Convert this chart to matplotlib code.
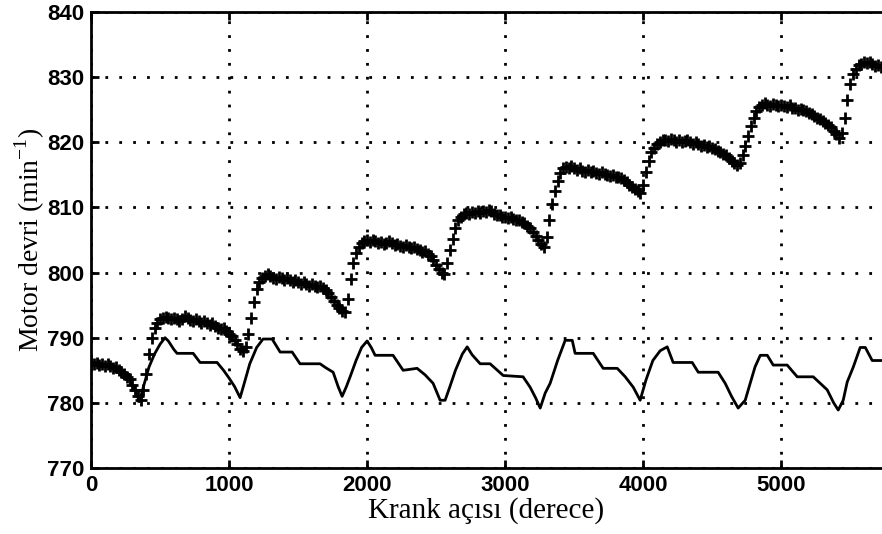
import matplotlib
matplotlib.use('Agg')
import matplotlib.pyplot as plt
import numpy as np

# krank acisi ekseni (derece), + isaretli seri her 20 derecede bir
angle_step = 20

# motor devri, + isaretli seri (min-1)
speed_marked = [
    786.2, 786.0, 786.1, 785.8, 786.0, 785.7, 785.9, 785.6, 785.4, 785.5,
    785.0, 784.8, 784.5, 784.0, 783.6, 782.8, 781.9, 781.0, 780.5, 782.0,
    784.5, 787.5, 790.0, 791.5, 792.3, 792.8, 793.0, 793.2, 793.0, 792.8,
    793.1, 792.9, 792.6, 792.9, 793.3, 793.0, 792.7, 792.5, 792.8, 792.6,
    792.3, 792.5, 792.2, 792.0, 792.2, 791.8, 791.5, 791.3, 791.5, 791.0,
    790.5, 790.2, 789.6, 789.0, 788.3, 788.0, 788.5, 790.5, 793.0, 795.5,
    797.5, 798.6, 799.2, 799.5, 799.8, 799.5, 799.2, 799.0, 799.3, 799.1,
    798.9, 799.2, 798.8, 798.6, 798.9, 798.5, 798.3, 798.6, 798.2, 798.0,
    798.3, 797.9, 797.8, 798.0, 797.6, 797.3, 796.8, 796.2, 795.6, 795.0,
    794.5, 794.1, 794.0, 796.0, 799.0, 801.5, 803.0, 804.0, 804.5, 804.8,
    805.0, 804.7, 805.0, 804.8, 804.5, 804.7, 804.4, 804.6, 804.8, 804.5,
    804.2, 804.4, 804.1, 804.0, 804.2, 803.9, 803.8, 803.9, 803.6, 803.5,
    803.2, 803.3, 802.8, 802.5, 802.0, 801.2, 800.5, 800.0, 799.8, 801.5,
    803.5, 805.2, 806.8, 808.0, 808.6, 809.0, 809.2, 809.0, 809.3, 809.1,
    809.4, 809.2, 809.5, 809.3, 809.6, 809.4, 809.0, 808.8, 808.9, 808.6,
    808.5, 808.4, 808.5, 808.3, 808.0, 808.1, 807.8, 807.6, 807.2, 806.8,
    806.3, 805.6, 805.0, 804.4, 804.0, 805.5, 808.0, 810.5, 812.5, 814.0,
    815.3, 816.0, 816.2, 816.0, 816.3, 816.1, 815.8, 816.0, 815.6, 815.5,
    815.7, 815.4, 815.6, 815.3, 815.2, 815.4, 815.1, 815.0, 814.8, 815.0,
    814.7, 814.6, 814.5, 814.2, 813.9, 813.5, 813.2, 812.9, 812.5, 812.2,
    813.5, 815.5, 817.2, 818.5, 819.2, 819.8, 820.1, 820.3, 820.4, 820.2,
    820.5, 820.3, 820.1, 820.3, 820.0, 820.2, 820.4, 820.1, 819.8, 820.0,
    819.7, 819.5, 819.6, 819.3, 819.4, 819.1, 818.9, 818.7, 818.5, 818.2,
    818.0, 817.6, 817.2, 816.8, 816.5, 816.8, 818.0, 819.5, 821.0, 822.5,
    823.8, 824.8, 825.4, 825.8, 826.0, 825.8, 825.6, 825.9, 825.7, 825.5,
    825.8, 825.6, 825.4, 825.7, 825.3, 825.2, 825.0, 825.1, 824.9, 824.8,
    824.5, 824.3, 824.0, 823.8, 823.6, 823.3, 823.0, 822.6, 822.3, 821.8,
    821.2, 820.7, 821.5, 823.8, 826.5, 829.0, 830.5, 831.3, 831.8, 832.0,
    832.3, 832.1, 832.4, 832.0, 831.7, 831.9, 831.5, 831.7,
]

# duz cizgili seri: kirilma noktalari
line_angle = [
    0, 60, 130, 170, 230, 280, 320, 350, 380, 420, 460, 500, 536, 560, 600,
    623, 740, 790, 913, 960, 1000, 1040, 1080, 1110, 1150, 1200, 1246, 1312,
    1370, 1457, 1514, 1659, 1700, 1754, 1790, 1819, 1850, 1877, 1920, 1960,
    2000, 2030, 2058, 2188, 2261, 2362, 2420, 2478, 2529, 2565, 2600, 2640,
    2690, 2725, 2760, 2819, 2891, 2986, 3130, 3181, 3220, 3254, 3290, 3326,
    3380, 3435, 3486, 3507, 3638, 3710, 3812, 3870, 3928, 3978, 4020, 4070,
    4123, 4174, 4217, 4355, 4399, 4543, 4594, 4640, 4688, 4739, 4775, 4810,
    4848, 4899, 4942, 5043, 5116, 5232, 5333, 5380, 5413, 5449, 5478, 5522,
    5572, 5609, 5659, 5730,
]
line_speed = [
    786.2, 786.0, 785.8, 785.0, 784.6, 783.5, 782.0, 780.2, 782.5, 785.5,
    787.5, 789.0, 790.0, 789.5, 788.2, 787.6, 787.6, 786.2, 786.2, 785.0,
    783.8, 782.5, 780.8, 783.0, 786.0, 788.5, 789.8, 789.8, 787.8, 787.8,
    786.0, 786.0, 785.4, 784.7, 782.5, 781.0, 782.5, 784.0, 786.5, 788.5,
    789.5, 788.5, 787.3, 787.3, 785.0, 785.3, 784.3, 783.0, 780.4, 780.4,
    782.5, 785.0, 787.5, 788.6, 787.4, 786.0, 786.0, 784.2, 784.0, 782.4,
    780.8, 779.2, 781.5, 783.0, 786.5, 789.6, 789.6, 787.6, 787.6, 785.3,
    785.3, 784.0, 782.4, 780.4, 783.5, 786.5, 788.0, 788.6, 786.2, 786.2,
    784.7, 784.7, 783.0, 781.0, 779.2, 780.4, 783.0, 785.5, 787.3, 787.3,
    785.8, 785.8, 784.0, 784.0, 782.0, 780.0, 778.9, 780.4, 783.2, 785.5,
    788.5, 788.5, 786.5, 786.5,
]

x_ticks = [0, 1000, 2000, 3000, 4000, 5000]
y_ticks = [770, 780, 790, 800, 810, 820, 830, 840]

plt.rcParams['mathtext.fontset'] = 'custom'
plt.rcParams['mathtext.rm'] = 'Liberation Serif'

marked_angle = np.arange(len(speed_marked)) * angle_step

fig = plt.figure(figsize=(8.82, 5.34), dpi=100)
ax = fig.add_axes([0.1032, 0.1236, 0.8968, 0.8539])

ax.plot(line_angle, line_speed, color='black', linewidth=2.0, zorder=3)
ax.plot(marked_angle, speed_marked, linestyle='none', marker='+',
        markersize=9, markeredgewidth=2.0, color='black', zorder=4)

ax.set_xlim(0, 5730)
ax.set_ylim(770, 840)
ax.set_xticks(x_ticks)
ax.set_yticks(y_ticks)

ax.grid(True, color='black', linestyle=(0, (1, 4)), linewidth=2.0)
ax.set_axisbelow(True)

for side in ['left', 'top', 'bottom']:
    ax.spines[side].set_linewidth(2.0)
ax.spines['right'].set_visible(False)

ax.tick_params(direction='in', length=6, width=2.0, top=True,
               labelsize=16, pad=5)
for lbl in ax.get_xticklabels() + ax.get_yticklabels():
    lbl.set_fontweight('bold')
    lbl.set_family('Liberation Sans')

ax.set_xlabel('Krank açısı (derece)', family='Liberation Serif',
              fontsize=21, labelpad=1)
ax.set_ylabel(r'Motor devri (min$^{\mathregular{-1}}$)',
              family='Liberation Serif', fontsize=20, labelpad=0)

fig.savefig('out.png', dpi=100)
